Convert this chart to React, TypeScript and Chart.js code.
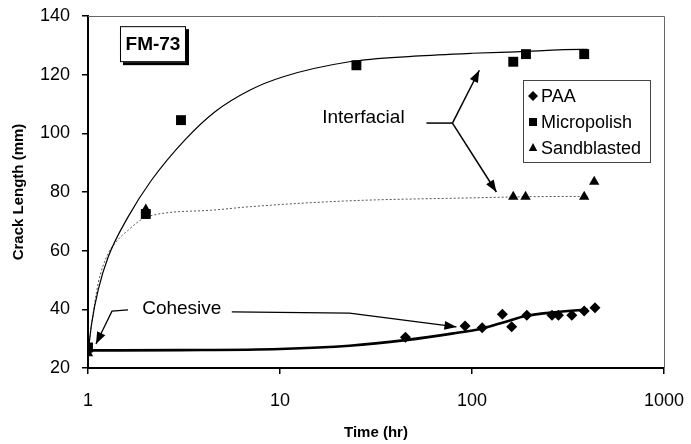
import React, { useEffect, useRef } from "react";
import { Chart, registerables } from "chart.js";

Chart.register(...registerables);

const FONT = "'Liberation Sans', Arial, Helvetica, sans-serif";

// Axis ticks
const xTickValues = [1, 10, 100, 1000];
const yMin = 20;
const yMax = 140;
const yStep = 20;

// Measured points
const paaTime = [1, 45, 92, 113, 144, 161, 193, 261, 282, 331, 384, 437];
const paaCrack = [26, 30.5, 34.3, 33.7, 38.3, 34.1, 38, 38, 38, 38, 39.4, 40.5];

const microTime = [1, 2, 3.05, 25, 164, 191, 384];
const microCrack = [27, 72.5, 104.5, 123.2, 124.4, 127, 127];

const sandTime = [1, 2, 164, 190, 384, 433];
const sandCrack = [25, 74, 78.4, 78.4, 78.4, 83.5];

// Fitted trend curves
const microFitTime = [1, 1.045, 1.13, 1.275, 1.62, 2.14, 3.19, 4.57, 6.95, 10.4, 23, 50, 100, 169, 377, 400];
const microFitCrack = [25, 35.2, 46.6, 57.9, 71.6, 84, 97.7, 107.3, 114.7, 119.3, 124.4, 126.3, 127.3, 127.8, 128.6, 128.6];

const sandFitTime = [1, 1.045, 1.13, 1.25, 1.38, 1.62, 2.02, 4.4, 7, 23, 100, 200, 400];
const sandFitCrack = [25, 35, 48.9, 57.9, 62.5, 67, 71.5, 73.8, 75, 77, 78, 78.4, 78.5];

const paaFitTime = [1, 3, 10, 23, 45, 80, 113, 150, 190, 250, 377, 400];
const paaFitCrack = [26, 26.1, 26.5, 27.6, 29.5, 31.8, 33.5, 35.8, 37.7, 38.8, 39.8, 39.9];

const seriesNames = ["PAA", "Micropolish", "Sandblasted"];
const seriesStyles = ["rectRot", "rect", "triangle"];

const zip = (xs: number[], ys: number[]) => xs.map((x, i) => ({ x, y: ys[i] }));

function drawArrow(ctx: CanvasRenderingContext2D, pts: number[][], head = 12, half = 4.5) {
  ctx.beginPath();
  ctx.moveTo(pts[0][0], pts[0][1]);
  for (let i = 1; i < pts.length; i++) ctx.lineTo(pts[i][0], pts[i][1]);
  ctx.stroke();
  const [ax, ay] = pts[pts.length - 2];
  const [bx, by] = pts[pts.length - 1];
  const ang = Math.atan2(by - ay, bx - ax);
  const cx = bx - head * Math.cos(ang);
  const cy = by - head * Math.sin(ang);
  ctx.beginPath();
  ctx.moveTo(bx, by);
  ctx.lineTo(cx + half * Math.sin(ang), cy - half * Math.cos(ang));
  ctx.lineTo(cx - half * Math.sin(ang), cy + half * Math.cos(ang));
  ctx.closePath();
  ctx.fill();
}

function drawMarker(ctx: CanvasRenderingContext2D, style: string, x: number, y: number, r: number) {
  ctx.beginPath();
  if (style === "rectRot") {
    ctx.moveTo(x, y - r);
    ctx.lineTo(x + r, y);
    ctx.lineTo(x, y + r);
    ctx.lineTo(x - r, y);
  } else if (style === "rect") {
    ctx.rect(x - r * 0.8, y - r * 0.8, r * 1.6, r * 1.6);
  } else {
    ctx.moveTo(x, y - r);
    ctx.lineTo(x + r * 0.85, y + r * 0.6);
    ctx.lineTo(x - r * 0.85, y + r * 0.6);
  }
  ctx.closePath();
  ctx.fill();
}

const annotPlugin = {
  id: "annot",
  afterDraw(chart: any) {
    const { ctx, chartArea: ca, scales } = chart;
    const sx = scales.x;
    const sy = scales.y;
    const P = (xv: number, yv: number) => [sx.getPixelForValue(xv), sy.getPixelForValue(yv)];
    ctx.save();

    // top/right frame
    ctx.strokeStyle = "#666";
    ctx.lineWidth = 1;
    ctx.beginPath();
    ctx.moveTo(ca.left, ca.top + 0.5);
    ctx.lineTo(ca.right + 0.5, ca.top + 0.5);
    ctx.lineTo(ca.right + 0.5, ca.bottom);
    ctx.stroke();

    // Axis titles
    ctx.fillStyle = "#000";
    ctx.font = `bold 15px ${FONT}`;
    ctx.textAlign = "center";
    ctx.textBaseline = "middle";
    ctx.fillText("Time (hr)", (ca.left + ca.right) / 2, 433);
    ctx.save();
    ctx.translate(19, (ca.top + ca.bottom) / 2);
    ctx.rotate(-Math.PI / 2);
    ctx.fillText("Crack Length (mm)", 0, 0);
    ctx.restore();

    // FM-73 box
    const [fx, fy] = P(2.18, 130.4);
    const bw = 66, bh = 36;
    ctx.fillStyle = "#000";
    ctx.fillRect(fx - bw / 2 + 3, fy - bh / 2 + 3, bw, bh);
    ctx.fillStyle = "#fff";
    ctx.fillRect(fx - bw / 2, fy - bh / 2, bw, bh);
    ctx.strokeStyle = "#000";
    ctx.lineWidth = 1;
    ctx.strokeRect(fx - bw / 2 + 0.5, fy - bh / 2 + 0.5, bw - 1, bh - 1);
    ctx.fillStyle = "#000";
    ctx.font = `bold 19px ${FONT}`;
    ctx.fillText("FM-73", fx, fy + 1);

    // Interfacial
    ctx.font = `19px ${FONT}`;
    const [ix, iy] = P(27.2, 105.2);
    ctx.fillText("Interfacial", ix, iy);
    ctx.lineWidth = 1.5;
    ctx.strokeStyle = "#000";
    const br = P(79.1, 103.5);
    ctx.beginPath();
    const st = P(57.9, 103.5);
    ctx.moveTo(st[0], st[1]);
    ctx.lineTo(br[0], br[1]);
    ctx.stroke();
    drawArrow(ctx, [br, P(109.2, 121.5)]);
    drawArrow(ctx, [br, P(134, 80)]);

    // Cohesive
    const [cx, cy] = P(3.08, 40.1);
    ctx.fillText("Cohesive", cx, cy);
    ctx.lineWidth = 1.3;
    drawArrow(ctx, [P(5.61, 39.1), P(23, 38.7), P(83, 34.0)]);
    drawArrow(ctx, [P(1.615, 39.8), P(1.333, 39.4), P(1.1, 28.2)]);

    // Legend
    const lx = ca.right - 141;
    const ly = ca.top + 64;
    const lw = 127, lh = 82;
    ctx.fillStyle = "#fff";
    ctx.fillRect(lx, ly, lw, lh);
    ctx.strokeStyle = "#444";
    ctx.lineWidth = 1;
    ctx.strokeRect(lx + 0.5, ly + 0.5, lw, lh);
    ctx.fillStyle = "#000";
    ctx.font = `18px ${FONT}`;
    ctx.textAlign = "left";
    seriesNames.forEach((name, i) => {
      const yy = ly + 16 + i * 26;
      drawMarker(ctx, seriesStyles[i], lx + 10, yy, 5);
      ctx.fillText(name, lx + 18, yy + 1);
    });

    ctx.restore();
  },
};

export default function App() {
  const ref = useRef<HTMLCanvasElement | null>(null);
  useEffect(() => {
    if (!ref.current) return;
    const chart = new Chart(ref.current, {
      type: "scatter",
      data: {
        datasets: [
          {
            label: seriesNames[0],
            data: zip(paaTime, paaCrack),
            pointStyle: "rectRot",
            pointRadius: 5.5,
            backgroundColor: "#000",
            borderColor: "#000",
            borderWidth: 0,
          },
          {
            label: seriesNames[1],
            data: zip(microTime, microCrack),
            pointStyle: "rect",
            pointRadius: 7,
            backgroundColor: "#000",
            borderColor: "#000",
            borderWidth: 0,
          },
          {
            label: seriesNames[2],
            data: zip(sandTime, sandCrack),
            pointStyle: "triangle",
            pointRadius: 6,
            backgroundColor: "#000",
            borderColor: "#000",
            borderWidth: 0,
          },
          {
            label: "PAA fit",
            data: zip(paaFitTime, paaFitCrack),
            showLine: true,
            pointRadius: 0,
            borderColor: "#000",
            borderWidth: 2.6,
            cubicInterpolationMode: "monotone",
          },
          {
            label: "Micropolish fit",
            data: zip(microFitTime, microFitCrack),
            showLine: true,
            pointRadius: 0,
            borderColor: "#000",
            borderWidth: 1.2,
            cubicInterpolationMode: "monotone",
          },
          {
            label: "Sandblasted fit",
            data: zip(sandFitTime, sandFitCrack),
            showLine: true,
            pointRadius: 0,
            borderColor: "#555",
            borderWidth: 1,
            borderDash: [2, 2],
            cubicInterpolationMode: "monotone",
          },
        ] as any,
      },
      options: {
        animation: false,
        responsive: false,
        devicePixelRatio: 1,
        layout: { padding: { top: 16, right: 27, left: 0, bottom: 0 } },
        plugins: {
          legend: { display: false },
          tooltip: { enabled: false },
        },
        scales: {
          x: {
            type: "logarithmic",
            min: 1,
            max: 1000,
            afterBuildTicks: (scale: any) => {
              scale.ticks = xTickValues.map((value) => ({ value }));
            },
            afterFit: (scale: any) => {
              scale.height = 76;
              scale.paddingLeft = 0;
              scale.paddingRight = 0;
            },
            ticks: {
              color: "#000",
              font: { family: FONT, size: 18 },
              padding: 16,
              maxRotation: 0,
              autoSkip: false,
              callback: (v: any) => String(v),
            },
            grid: { drawOnChartArea: false, tickLength: 6, color: "#000", lineWidth: 1.5 },
            border: { color: "#000", width: 2 },
          },
          y: {
            min: yMin,
            max: yMax,
            afterFit: (scale: any) => {
              scale.width = 88;
              scale.paddingTop = 0;
              scale.paddingBottom = 0;
            },
            ticks: {
              stepSize: yStep,
              color: "#000",
              font: { family: FONT, size: 18 },
              padding: 12,
            },
            grid: { drawOnChartArea: false, tickLength: 6, color: "#000", lineWidth: 1.5 },
            border: { color: "#000", width: 2 },
          },
        },
      } as any,
      plugins: [annotPlugin],
    });
    return () => chart.destroy();
  }, []);

  return (
    <div style={{ position: "absolute", left: 0, top: 0, width: 691, height: 444, background: "#fff" }}>
      <canvas ref={ref} width={691} height={444} style={{ width: 691, height: 444, display: "block" }} />
    </div>
  );
}
